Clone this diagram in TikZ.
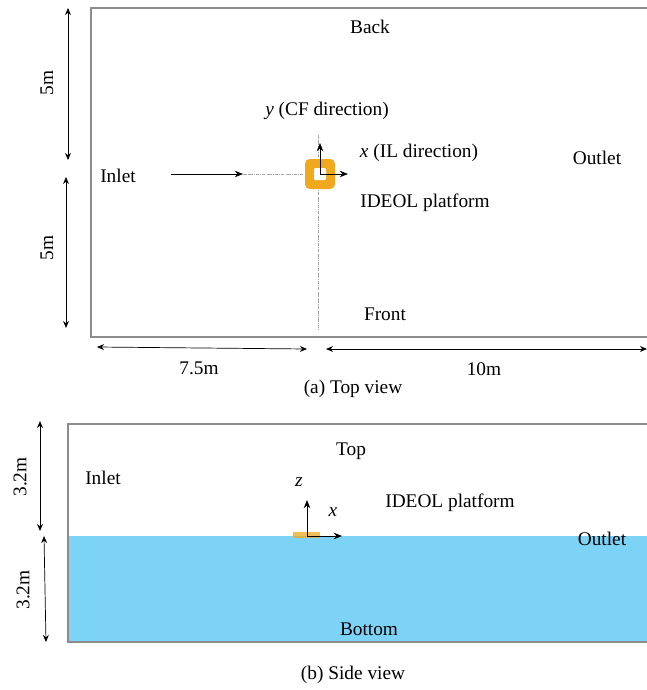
\documentclass[tikz,border=0pt]{standalone}
\usepackage{fontspec}
\setmainfont{Liberation Serif}
\usetikzlibrary{calc,arrows.meta}
\definecolor{water}{RGB}{125,211,245}
\definecolor{floater}{RGB}{240,168,30}
\tikzstyle{lbl} = [font=\fontsize{16.5}{19}\selectfont, inner sep=0pt, anchor=center]
\tikzstyle{dim} = [line width=0.6pt, {Stealth[length=6pt,width=5pt]}-{Stealth[length=6pt,width=5pt]}]
\tikzstyle{arrow} = [line width=0.7pt,-{Stealth[length=7pt,width=5.5pt]}]
\tikzstyle{boxwall} = [draw=black!45, line width=1pt]
\tikzstyle{axisline} = [gray!70, densely dash dot, thin]

\begin{document}
\begin{tikzpicture}[x=0.03cm, y=-0.03cm]
\useasboundingbox (0,0) rectangle (647,690);

% (a) top view
\draw [boxwall] (91,8) rectangle (652,337);
\node (back) [lbl] at (370,27) {Back};
\node (front) [lbl] at (385,314) {Front};
\node (inlet1) [lbl] at (118,176) {Inlet};
\node (outlet1) [lbl] at (597,158) {Outlet};
\node (ideol1) [lbl] at (425,203) {IDEOL platform};
\node (ylbl) [lbl] at (327,111) {\textit{y} (CF direction)};
\node (xlbl) [lbl] at (419,153) {\textit{x} (IL direction)};
\coordinate (o1) at (320,174);
\coordinate (flowa) at (171,174);
\coordinate (flowb) at (243,174);
\draw [axisline] (flowb) -- (o1);
\draw [axisline] (318,135) -- (318,330);
\draw [arrow] (flowa) -- (flowb);
% platform (plan)
\fill [floater, rounded corners=4pt] ($(o1)+(-15,-15)$) rectangle ($(o1)+(15,15)$);
\fill [white, rounded corners=1pt] ($(o1)+(-6,-6)$) rectangle ($(o1)+(6,6)$);
\coordinate (ytip) at (320,143);
\coordinate (xtip) at (348,174);
\draw [arrow] (o1) -- (ytip);
\draw [arrow] (o1) -- (xtip);
% dimensions
\draw [dim] (68,8) -- (68,160);
\node [lbl, rotate=90] at (47,83) {5m};
\draw [dim] (66,177) -- (66,328);
\node [lbl, rotate=90] at (47,248) {5m};
\draw [dim] (97,347) -- (307,349);
\node [lbl] at (199,368) {7.5m};
\draw [dim] (326,349) -- (647,349);
\node [lbl] at (484,369) {10m};
\node (capa) [lbl] at (353,389) {(a) Top view};

% (b) side view
\fill [water] (68,536) rectangle (652,642);
\draw [boxwall] (68,424) rectangle (652,642);
\node (top) [lbl] at (351,451) {Top};
\node (bottom) [lbl] at (369,629) {Bottom};
\node (inlet2) [lbl] at (103,478) {Inlet};
\node (outlet2) [lbl] at (602,539) {Outlet};
\node (ideol2) [lbl] at (450,503) {IDEOL platform};
\node (zlbl) [lbl] at (299,482) {\textit{z}};
\node (xlbl2) [lbl] at (333,512) {\textit{x}};
\coordinate (o2) at (307,536);
\fill [floater, opacity=0.75] (293,532) rectangle (320,538);
\draw [arrow] (o2) -- (307,500);
\draw [arrow] (o2) -- (342,536);
\draw [dim] (40,421) -- (40,531);
\node [lbl, rotate=90] at (20,477) {3.2m};
\draw [dim] (44,536) -- (46,642);
\node [lbl, rotate=90] at (23,590) {3.2m};
\node (capb) [lbl] at (353,675) {(b) Side view};

\end{tikzpicture}
\end{document}
